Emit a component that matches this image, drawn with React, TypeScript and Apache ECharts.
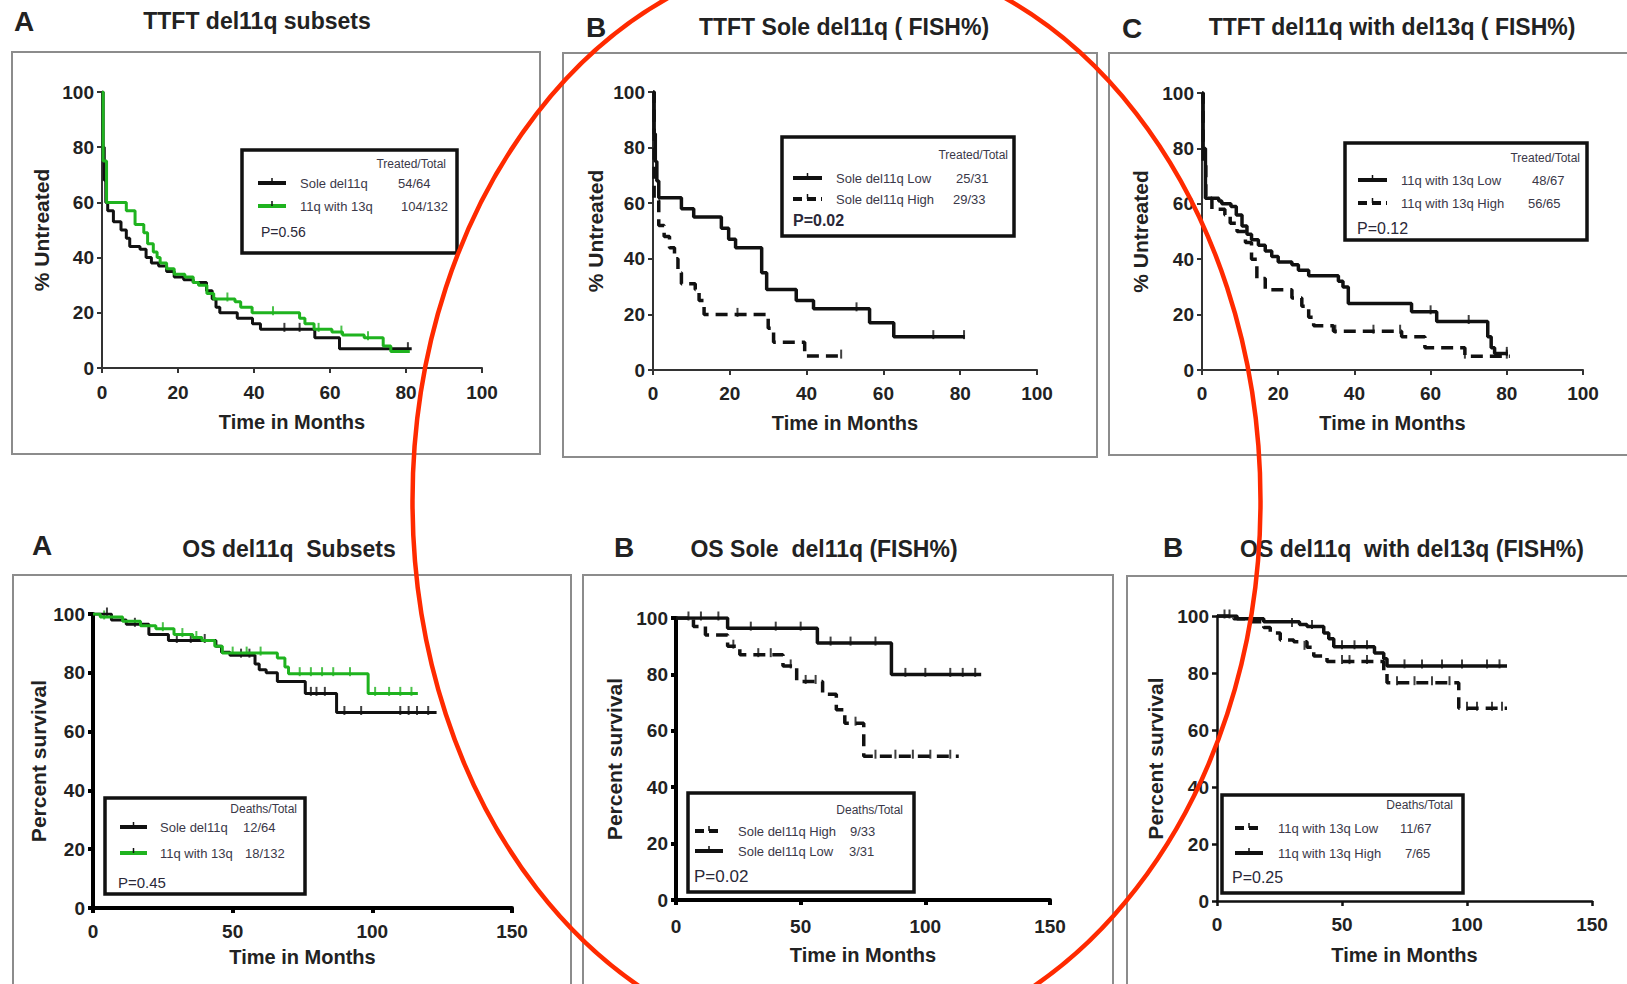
import React, { useEffect, useRef } from 'react';
import * as echarts from 'echarts';

// ---------------- DATA ----------------
// Kaplan-Meier step curves: [time in months, percent]
const ttftSoleDel11q = [[0,100],[0.3,80],[0.6,68],[1,60],[1.5,57],[3,53],[5,50],[6.4,47],[7.3,44],[10,43],[11.6,40],[13,38],[14.9,37],[17,35],[19,33],[21.5,32],[24,31],[27.5,28],[29,25],[30,22],[31,20],[35.6,18],[39.6,16],[41.7,14],[56,11],[62.5,7],[81.5,7]];
const ttftWith13q = [[0,100],[0.3,75],[1.2,60],[6.4,57],[8.7,52],[11,49],[12,45],[13.5,42],[14.5,40],[15.3,38],[17,36],[19,34],[21.8,33],[24,31],[25.4,30],[27.6,27],[29.4,25],[35,24],[36.5,22],[39.5,20],[52,18],[53.4,16],[55.8,14],[60.5,13],[63.3,12],[69,11],[74,8],[76,6],[81,6]];
const ttftSoleLow = [[0,100],[0.3,85],[0.6,75],[1,68],[1.5,62],[7.4,58],[10.6,55],[17.8,51],[19.7,47],[21.5,44],[28.3,35],[29.6,29],[37.3,25],[41.8,22],[56.4,17],[62.7,12],[81.2,12]];
const ttftSoleHigh = [[0,100],[0.3,61],[1.5,52],[2.9,48],[4.3,44],[5.6,40],[6.5,35],[7.4,31],[11,29],[12,25],[13.3,20],[30,15],[31.4,10],[39.5,5],[49,5]];
const ttft13qLow = [[0,100],[0.3,80],[0.9,62],[4.4,61],[5.2,60],[7.6,59],[9,56],[10.5,52],[11.8,49],[13,47],[14.8,45],[16.6,43],[18.3,41],[20,39],[23.6,38],[25.3,36],[28,34],[35.8,32],[37,30],[38.4,24],[55,21],[61.6,17.5],[75,12],[75.9,8],[76.8,6],[80.3,6]];
const ttft13qHigh = [[0,100],[0.3,75],[1,62],[2.6,58],[6,56],[7.4,53],[9.2,50],[11.4,46],[13,40],[14.4,33],[16.6,29],[23.6,26],[26.2,23],[28,19],[29.3,16],[34.5,14],[52.4,12],[58.5,8],[69,5],[80.8,5]];
const osSoleDel11q = [[0,100],[6.6,98],[11.9,96.5],[20,93],[27,91],[44,89],[46,87],[49,86],[58,83],[59.5,81],[62,80],[66,77],[76,73],[87.2,66.5],[123,66.5]];
const osWith13q = [[0,100],[2.6,99],[10.6,97.5],[17,96],[22.5,95],[29,93],[35.7,92],[39,91],[43.6,89],[46.3,86.7],[66,85],[68.7,82],[70,79.7],[98.5,73],[116.3,73]];
const osSoleHigh = [[0,100],[7,97],[11.8,94],[20.7,90],[25.6,87],[42.9,83],[48.4,77.5],[58.8,73],[64.3,67.5],[67.7,62.7],[75.3,51],[113.4,51]];
const osSoleLow = [[0,100],[20.7,96.4],[56.7,91.1],[86.4,80],[122.4,80]];
const os13qLow = [[0,100],[6.7,99],[13.3,98],[18.7,96],[21.3,94],[25.3,91.6],[30.7,91],[36,89],[38.7,86],[44,84],[66.7,80],[68,76.6],[96.7,67.6],[116,67.6]];
const os13qHigh = [[0,100],[8,99],[18.7,98],[33,97],[36,96.3],[42.7,94],[44.7,92],[46.7,89.2],[63,87],[66.7,85],[68,82.5],[116,82.5]];

// censored observations (tick marks)
const cTtftSole = [[48,14],[52,14],[80.5,7]];
const cTtftWith13q = [[33,25],[45,20],[57,14],[63,13],[70,11]];
const cTtftSoleLow = [[53,22],[73,12],[81,12]];
const cTtftSoleHigh = [[22,20],[49,5]];
const cTtft13qLow = [[60,21],[70,17.5],[80,6]];
const cTtft13qHigh = [[35,14],[45,14],[52,14],[69,5],[80,5]];
const cOsSole = [[5,100],[15,96.5],[30,91],[35,91],[40,91],[53,86],[56,86],[78,73],[80,73],[83,73],[90,66.5],[96,66.5],[110,66.5],[113,66.5],[116,66.5],[120,66.5]];
const cOsWith13q = [[4,99],[25,95],[32,93],[37,92],[50,86.7],[55,86.7],[60,86.7],[74,79.7],[78,79.7],[82,79.7],[86,79.7],[92,79.7],[101,73],[106,73],[110,73],[114,73]];
const cOsSoleLow = [[10,100],[17,100],[30,96.4],[40,96.4],[50,96.4],[62,91.1],[70,91.1],[80,91.1],[92,80],[100,80],[110,80],[115,80],[120,80]];
const cOsSoleHigh = [[5,100],[23,90],[33,87],[38,87],[46,83],[52,77.5],[56,77.5],[72,62.7],[80,51],[88,51],[95,51],[102,51],[110,51]];
const cOs13qHigh = [[3,100],[5,100],[30,97],[38,96.3],[50,89.2],[55,89.2],[60,89.2],[75,82.5],[82,82.5],[90,82.5],[98,82.5],[108,82.5],[113,82.5]];
const cOs13qLow = [[35,89],[50,84],[53,84],[60,84],[72,76.6],[79,76.6],[86,76.6],[93,76.6],[100,67.6],[104,67.6],[110,67.6],[114,67.6]];

const panelTitles = ['TTFT del11q subsets', 'TTFT Sole del11q ( FISH%)', 'TTFT del11q with del13q ( FISH%)', 'OS del11q  Subsets', 'OS Sole  del11q (FISH%)', 'OS del11q  with del13q (FISH%)'];
const panelLetters = ['A', 'B', 'C', 'A', 'B', 'B'];
const yAxisNames = ['% Untreated', '% Untreated', '% Untreated', 'Percent survival', 'Percent survival', 'Percent survival'];
const xAxisName = 'Time in Months';
const xMaxTTFT = 100, xStepTTFT = 20;
const xMaxOS = 150, xStepOS = 50;
const yMax = 100, yStep = 20;

const legendHeaders = ['Treated/Total', 'Treated/Total', 'Treated/Total', 'Deaths/Total', 'Deaths/Total', 'Deaths/Total'];
const legendLabels = [
  ['Sole del11q', '11q with 13q'],
  ['Sole del11q Low', 'Sole del11q High'],
  ['11q with 13q Low', '11q with 13q High'],
  ['Sole del11q', '11q with 13q'],
  ['Sole del11q High', 'Sole del11q Low'],
  ['11q with 13q Low', '11q with 13q High'],
];
const legendCounts = [
  ['54/64', '104/132'],
  ['25/31', '29/33'],
  ['48/67', '56/65'],
  ['12/64', '18/132'],
  ['9/33', '3/31'],
  ['11/67', '7/65'],
];
const pValues = ['P=0.56', 'P=0.02', 'P=0.12', 'P=0.45', 'P=0.02', 'P=0.25'];

// ---------------- STYLE / LAYOUT ----------------
const FONT = '"Liberation Sans", Arial, Helvetica, sans-serif';
const BLACK = '#111111';
const GREEN = '#1fb31f';
const DASH = [12, 7];

type Curve = { data: number[][]; censor: number[][]; color: string; dashed: boolean };

const panels = [
  { grid: { left: 102, top: 92, width: 380, height: 276 }, xMax: xMaxTTFT, xStep: xStepTTFT, axisW: 2, axisC: '#333', lw: 3,
    xGap: 44, yGap: 50, xMargin: 15,
    curves: [
      { data: ttftSoleDel11q, censor: cTtftSole, color: BLACK, dashed: false },
      { data: ttftWith13q, censor: cTtftWith13q, color: GREEN, dashed: false },
    ] as Curve[] },
  { grid: { left: 653, top: 92, width: 384, height: 278 }, xMax: xMaxTTFT, xStep: xStepTTFT, axisW: 2, axisC: '#333', lw: 3.5,
    xGap: 43, yGap: 47, xMargin: 14,
    curves: [
      { data: ttftSoleLow, censor: cTtftSoleLow, color: BLACK, dashed: false },
      { data: ttftSoleHigh, censor: cTtftSoleHigh, color: BLACK, dashed: true },
    ] as Curve[] },
  { grid: { left: 1202, top: 93, width: 381, height: 277 }, xMax: xMaxTTFT, xStep: xStepTTFT, axisW: 2, axisC: '#333', lw: 3.5,
    xGap: 43, yGap: 51, xMargin: 14,
    curves: [
      { data: ttft13qLow, censor: cTtft13qLow, color: BLACK, dashed: false },
      { data: ttft13qHigh, censor: cTtft13qHigh, color: BLACK, dashed: true },
    ] as Curve[] },
  { grid: { left: 93, top: 614, width: 419, height: 294 }, xMax: xMaxOS, xStep: xStepOS, axisW: 4, axisC: '#000', lw: 3,
    xGap: 39, yGap: 43, xMargin: 14,
    curves: [
      { data: osSoleDel11q, censor: cOsSole, color: BLACK, dashed: false },
      { data: osWith13q, censor: cOsWith13q, color: GREEN, dashed: false },
    ] as Curve[] },
  { grid: { left: 676, top: 618, width: 374, height: 282 }, xMax: xMaxOS, xStep: xStepOS, axisW: 4, axisC: '#000', lw: 3.5,
    xGap: 45, yGap: 51, xMargin: 17,
    curves: [
      { data: osSoleLow, censor: cOsSoleLow, color: BLACK, dashed: false },
      { data: osSoleHigh, censor: cOsSoleHigh, color: BLACK, dashed: true },
    ] as Curve[] },
  { grid: { left: 1217, top: 616, width: 375, height: 285 }, xMax: xMaxOS, xStep: xStepOS, axisW: 2.5, axisC: '#111', lw: 3.5,
    xGap: 44, yGap: 51, xMargin: 14,
    curves: [
      { data: os13qHigh, censor: cOs13qHigh, color: BLACK, dashed: false },
      { data: os13qLow, censor: cOs13qLow, color: BLACK, dashed: true },
    ] as Curve[] },
];

const titlePos = [[257, 21], [844, 27], [1392, 27], [289, 549], [824, 549], [1412, 549]];
const letterPos = [[24, 21], [596, 27], [1132, 28], [42, 545], [624, 547], [1173, 547]];
const frames = [[12, 52, 528, 402], [563, 53, 534, 404], [1109, 53, 530, 402], [13, 575, 558, 420], [583, 575, 530, 420], [1127, 576, 510, 420]];

const legendLayout = [
  { box: [242, 150, 215, 103], hx: 446, hy: 164, l: [258, 286], tx: 300, rows: [183, 206], cx: [398, 401], p: [261, 232], ps: 14, pb: false,
    styles: [{ c: BLACK, d: false }, { c: GREEN, d: false }] },
  { box: [782, 137, 232, 99], hx: 1008, hy: 155, l: [793, 822], tx: 836, rows: [178, 199], cx: [956, 953], p: [793, 220], ps: 16, pb: true,
    styles: [{ c: BLACK, d: false }, { c: BLACK, d: true }] },
  { box: [1345, 143, 242, 97], hx: 1580, hy: 158, l: [1358, 1387], tx: 1401, rows: [180, 203], cx: [1532, 1528], p: [1357, 228], ps: 16, pb: false,
    styles: [{ c: BLACK, d: false }, { c: BLACK, d: true }] },
  { box: [105, 798, 200, 96], hx: 297, hy: 809, l: [120, 147], tx: 160, rows: [827, 853], cx: [243, 245], p: [118, 882], ps: 15, pb: false,
    styles: [{ c: BLACK, d: false }, { c: GREEN, d: false }] },
  { box: [688, 793, 226, 99], hx: 903, hy: 810, l: [695, 723], tx: 738, rows: [831, 851], cx: [850, 849], p: [694, 876], ps: 17, pb: false,
    styles: [{ c: BLACK, d: true }, { c: BLACK, d: false }] },
  { box: [1222, 795, 241, 98], hx: 1453, hy: 805, l: [1235, 1263], tx: 1278, rows: [828, 853], cx: [1400, 1405], p: [1232, 877], ps: 16, pb: false,
    styles: [{ c: BLACK, d: true }, { c: BLACK, d: false }] },
];

function text(x: number, y: number, t: string, size: number, opt: any = {}) {
  return {
    type: 'text', x, y, z: 20,
    style: {
      text: t, fontSize: size, fontFamily: FONT, fontWeight: opt.bold ? 'bold' : 'normal',
      fill: opt.color || '#222', align: opt.align || 'left', verticalAlign: 'middle',
    },
  };
}

function buildOption() {
  const grid: any[] = [];
  const xAxis: any[] = [];
  const yAxis: any[] = [];
  const series: any[] = [];
  const graphic: any[] = [];

  panels.forEach((p, i) => {
    grid.push({ ...p.grid, containLabel: false });
    const axisLine = { show: true, onZero: false, lineStyle: { color: p.axisC, width: p.axisW } };
    const axisTick = { show: true, length: 5, lineStyle: { color: p.axisC, width: p.axisW } };
    const axisLabel = { fontSize: 19, fontWeight: 'bold', fontFamily: FONT, color: '#222' };
    xAxis.push({
      gridIndex: i, type: 'value', min: 0, max: p.xMax, interval: p.xStep,
      axisLine, axisTick, splitLine: { show: false },
      axisLabel: { ...axisLabel, margin: p.xMargin },
      name: xAxisName, nameLocation: 'middle', nameGap: p.xGap,
      nameTextStyle: { fontSize: 20, fontWeight: 'bold', fontFamily: FONT, color: '#222' },
    });
    yAxis.push({
      gridIndex: i, type: 'value', min: 0, max: yMax, interval: yStep,
      axisLine, axisTick, splitLine: { show: false },
      axisLabel: { ...axisLabel, margin: 8 },
      name: yAxisNames[i], nameLocation: 'middle', nameGap: p.yGap,
      nameTextStyle: { fontSize: 21, fontWeight: 'bold', fontFamily: FONT, color: '#222' },
    });
    p.curves.forEach((c) => {
      series.push({
        type: 'line', xAxisIndex: i, yAxisIndex: i, data: c.data, step: 'end',
        showSymbol: false, symbol: 'none', silent: true,
        lineStyle: { color: c.color, width: p.lw, type: c.dashed ? DASH : 'solid' },
      });
      series.push({
        type: 'scatter', xAxisIndex: i, yAxisIndex: i, data: c.censor,
        symbol: 'rect', symbolSize: [2, 9], symbolOffset: [0, -2], silent: true,
        itemStyle: { color: c.color },
      });
    });

    // panel frame
    const f = frames[i];
    graphic.push({ type: 'rect', z: 1, shape: { x: f[0], y: f[1], width: f[2], height: f[3] }, style: { fill: 'none', stroke: '#8c8c8c', lineWidth: 2 } });
    // title and letter
    graphic.push(text(titlePos[i][0], titlePos[i][1], panelTitles[i], 23, { bold: true, align: 'center' }));
    graphic.push(text(letterPos[i][0], letterPos[i][1], panelLetters[i], 28, { bold: true, align: 'center' }));

    // legend
    const L = legendLayout[i];
    graphic.push({ type: 'rect', z: 10, shape: { x: L.box[0], y: L.box[1], width: L.box[2], height: L.box[3] }, style: { fill: 'none', stroke: '#111', lineWidth: 3.5 } });
    graphic.push(text(L.hx, L.hy, legendHeaders[i], 12, { align: 'right', color: '#3a3848' }));
    L.rows.forEach((ry, r) => {
      const st = L.styles[r];
      graphic.push({ type: 'line', z: 12, shape: { x1: L.l[0], y1: ry, x2: L.l[1], y2: ry }, style: { stroke: st.c, lineWidth: 4, lineDash: st.d ? [9, 5] : null } });
      const mid = (L.l[0] + L.l[1]) / 2;
      graphic.push({ type: 'line', z: 12, shape: { x1: mid, y1: ry - 5, x2: mid, y2: ry }, style: { stroke: '#111', lineWidth: 1.5 } });
      graphic.push(text(L.tx, ry, legendLabels[i][r], 13, { color: '#3a3848' }));
      graphic.push(text(L.cx[r], ry, legendCounts[i][r], 13, { color: '#3a3848' }));
    });
    graphic.push(text(L.p[0], L.p[1], pValues[i], L.ps, { bold: L.pb, color: '#2a2838' }));
  });

  // red highlight ellipse
  graphic.push({ type: 'ellipse', z: 100, shape: { cx: 836.5, cy: 501, rx: 424, ry: 548 }, style: { fill: 'none', stroke: '#ff2a00', lineWidth: 4.5 } });

  return { animation: false, backgroundColor: '#ffffff', grid, xAxis, yAxis, series, graphic };
}

export default function App() {
  const ref = useRef<HTMLDivElement>(null);
  useEffect(() => {
    if (!ref.current) return;
    const chart = echarts.init(ref.current, null, { renderer: 'svg' });
    chart.setOption(buildOption() as any);
    return () => chart.dispose();
  }, []);
  return <div ref={ref} style={{ position: 'fixed', left: 0, top: 0, width: 1627, height: 984, background: '#fff' }} />;
}
